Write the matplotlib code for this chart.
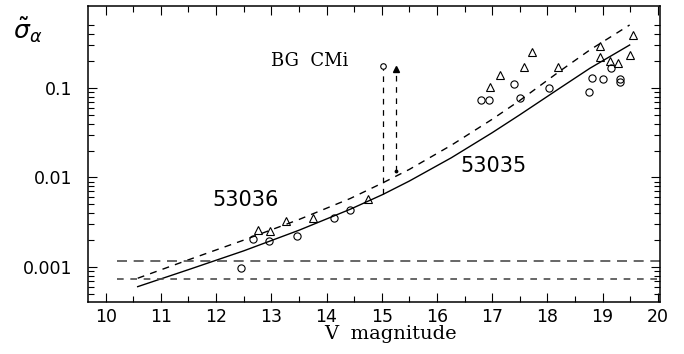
import numpy as np
import matplotlib.pyplot as plt
from matplotlib.ticker import FixedLocator, FixedFormatter, NullFormatter

# photometric error curves (V, log10 sigma)
curve_v = [10.58, 11.5, 12.5, 13.5, 14.43, 15.02, 15.5, 16.26, 17.0, 17.5, 18.23, 18.77, 19.49]
log_53035 = [-3.22, -3.03, -2.82, -2.59, -2.355, -2.19, -2.04, -1.78, -1.50, -1.30, -1.00, -0.78, -0.52]
log_53036 = [-3.126, -2.92, -2.70, -2.47, -2.235, -2.06, -1.91, -1.64, -1.35, -1.14, -0.81, -0.575, -0.296]

# nightly measurements, night 53035 (circles)
v_53035 = [12.45, 12.66, 12.96, 13.47, 14.14, 14.43, 16.79, 16.95, 17.40, 17.51, 18.03,
           18.75, 18.80, 19.00, 19.15, 19.31, 19.31]
s_53035 = [0.00098, 0.00206, 0.00195, 0.0022, 0.0035, 0.0043, 0.0735, 0.0735, 0.111, 0.078, 0.100,
           0.090, 0.128, 0.126, 0.166, 0.127, 0.117]

# night 53036 (triangles)
v_53036 = [12.75, 12.97, 13.26, 13.76, 14.75, 16.96, 17.15, 17.57, 17.72, 18.20,
           18.95, 18.95, 19.13, 19.28, 19.49, 19.56]
s_53036 = [0.00259, 0.00255, 0.00327, 0.00356, 0.00575, 0.1035, 0.139, 0.173, 0.252, 0.173,
           0.294, 0.224, 0.200, 0.190, 0.234, 0.391]

# BG CMi: measured scatter vs expected level
bg_v = [15.02, 15.26]
bg_low = [0.0065, 0.0118]
bg_high = [0.175, 0.165]

# detection limits
limit_high = 0.00117
limit_low = 0.00074

fig = plt.figure(figsize=(6.84, 3.54), dpi=100)
ax = fig.add_axes([88 / 684, 52 / 354, 572 / 684, 296 / 354])
ax.set_yscale('log')

ax.plot(curve_v, 10 ** np.array(log_53035), color='k', lw=1.0)
ax.plot(curve_v, 10 ** np.array(log_53036), color='k', lw=1.0, dashes=(5, 4.5))

ax.hlines(limit_high, 10.2, 20.04, colors='0.3', lw=1.2, linestyles=(0, (6, 4)))
ax.hlines(limit_low, 10.2, 20.04, colors='0.3', lw=1.2, linestyles=(0, (4, 4)))

ax.plot(v_53035, s_53035, 'o', ms=5.2, mfc='none', mec='k', mew=0.8)
ax.plot(v_53036, s_53036, '^', ms=5.2, mfc='none', mec='k', mew=0.8)

# BG CMi
ax.plot([bg_v[0], bg_v[0]], [bg_low[0], bg_high[0]], color='k', lw=0.9, dashes=(4.5, 4.5))
ax.plot(bg_v[0], bg_high[0], 'o', ms=4, mfc='white', mec='k', mew=0.8)
ax.plot([bg_v[1], bg_v[1]], [bg_low[1], bg_high[1]], color='k', lw=0.9, dashes=(4.5, 4.5))
ax.plot(bg_v[1], bg_high[1], '^', ms=4.5, color='k')
ax.plot(bg_v[1], bg_low[1], '.', ms=3.5, color='k')

ax.text(12.54, 0.0056, '53036', fontsize=15, ha='center', va='center')
ax.text(17.03, 0.0134, '53035', fontsize=15, ha='center', va='center')
ax.text(13.69, 0.200, 'BG  CMi', fontsize=13, family='DejaVu Serif', ha='center', va='center')

ax.set_xlim(9.68, 20.04)
ax.set_ylim(0.000406, 0.824)

ax.xaxis.set_major_locator(FixedLocator(np.arange(10, 21)))
ax.xaxis.set_minor_locator(FixedLocator(np.arange(10.5, 20, 1.0)))
ax.yaxis.set_major_locator(FixedLocator([0.001, 0.01, 0.1]))
ax.yaxis.set_major_formatter(FixedFormatter(['0.001', '0.01', '0.1']))
minor_y = [m * 1e-4 for m in range(5, 10)] + [m * 1e-3 for m in range(2, 10)] \
    + [m * 1e-2 for m in range(2, 10)] + [m * 1e-1 for m in range(2, 6)]
ax.yaxis.set_minor_locator(FixedLocator(minor_y))
ax.yaxis.set_minor_formatter(NullFormatter())

ax.tick_params(which='both', direction='in', top=True, right=True, width=0.8, labelsize=12.5)
ax.tick_params(which='major', length=6.5)
ax.tick_params(which='minor', length=4.5)
ax.tick_params(axis='x', pad=4)
ax.tick_params(axis='y', pad=11)
for sp in ax.spines.values():
    sp.set_linewidth(1.1)

fig.text(391 / 684, 1 - 334 / 354, 'V  magnitude', fontsize=14, family='DejaVu Serif',
         ha='center', va='center')
fig.text(28 / 684, 1 - 30 / 354, r'$\tilde{\sigma}_{\alpha}$', fontsize=18, ha='center', va='center')

fig.savefig('out.png', dpi=100)
